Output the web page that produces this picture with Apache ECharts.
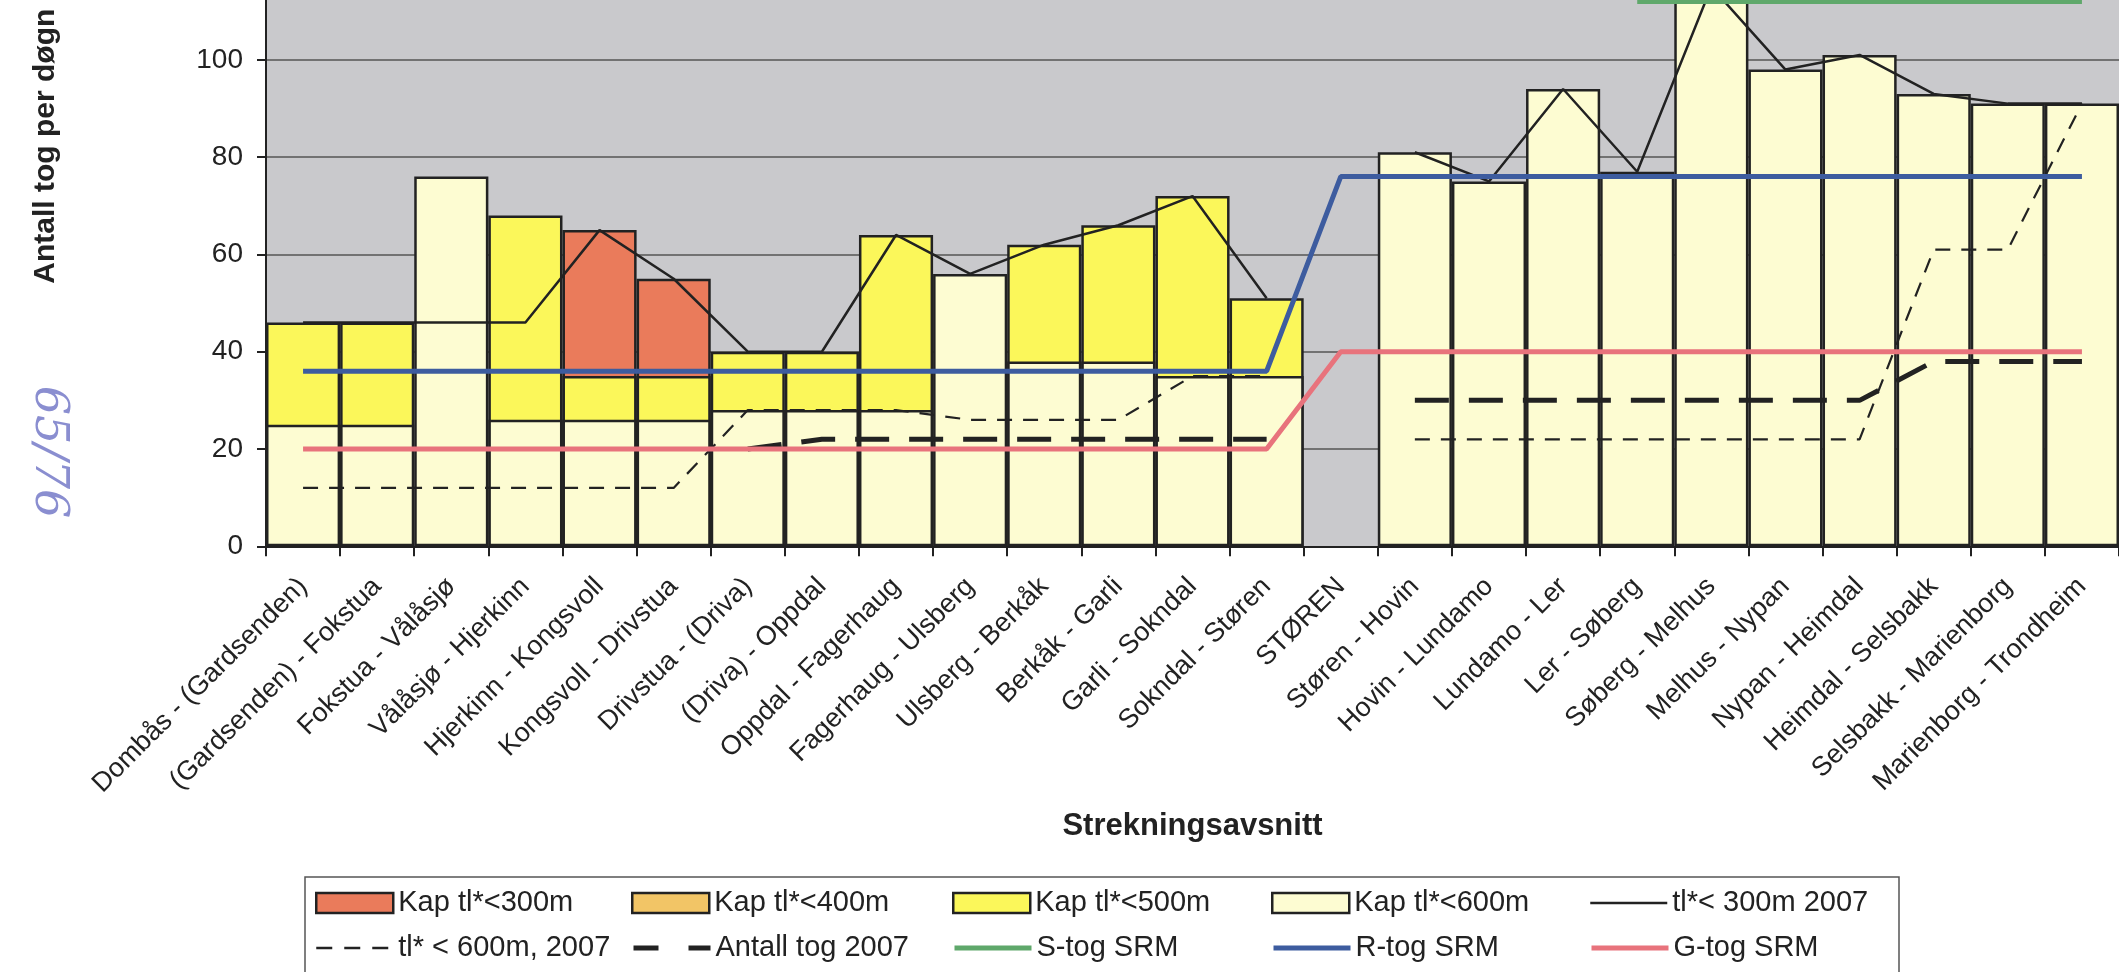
<!DOCTYPE html>
<html>
<head>
<meta charset="utf-8">
<script src="https://cdn.jsdelivr.net/npm/echarts@6/dist/echarts.min.js"></script>
<style>
html,body{margin:0;padding:0;background:#fff;}
#chart{width:2119px;height:972px;}
</style>
</head>
<body>
<div id="chart"></div>
<script>
// ---- Data ----
const categories = ['Dombås - (Gardsenden)', '(Gardsenden) - Fokstua', 'Fokstua - Vålåsjø', 'Vålåsjø - Hjerkinn',
  'Hjerkinn - Kongsvoll', 'Kongsvoll - Drivstua', 'Drivstua - (Driva)', '(Driva) - Oppdal', 'Oppdal - Fagerhaug',
  'Fagerhaug - Ulsberg', 'Ulsberg - Berkåk', 'Berkåk - Garli', 'Garli - Sokndal', 'Sokndal - Støren', 'STØREN',
  'Støren - Hovin', 'Hovin - Lundamo', 'Lundamo - Ler', 'Ler - Søberg', 'Søberg - Melhus', 'Melhus - Nypan',
  'Nypan - Heimdal', 'Heimdal - Selsbakk', 'Selsbakk - Marienborg', 'Marienborg - Trondheim'];

// capacity (total number of trains) by train length limit
const kap300 = [null, null, null, null, 65, 55, null, null, null, null, null, null, null, null, null,
  null, null, null, null, null, null, null, null, null, null];
const kap400 = [null, null, null, null, null, null, null, null, null, null, null, null, null, null, null,
  null, null, null, null, null, null, null, null, null, null];
const kap500 = [46, 46, null, 68, 35, 35, 40, 40, 64, null, 62, 66, 72, 51, null,
  null, null, null, null, null, null, null, null, null, null];
const kap600 = [25, 25, 76, 26, 26, 26, 28, 28, 28, 56, 38, 38, 35, 35, null,
  81, 75, 94, 77, 115, 98, 101, 93, 91, 91];

const tl300_2007 = [46, 46, 46, 46, 65, 55, 40, 40, 64, 56, 62, 66, 72, 51, null,
  81, 75, 94, 77, 115, 98, 101, 93, 91, 91];
const tl600_2007 = [12, 12, 12, 12, 12, 12, 28, 28, 28, 26, 26, 26, 35, 35, null,
  22, 22, 22, 22, 22, 22, 22, 61, 61, 91];
const antall2007 = [null, null, null, null, null, null, 20, 22, 22, 22, 22, 22, 22, 22, null,
  30, 30, 30, 30, 30, 30, 30, 38, 38, 38];
const sTogSRM = [null, null, null, null, null, null, null, null, null, null, null, null, null, null, null,
  null, null, null, 112, 112, 112, 112, 112, 112, 112];
const rTogSRM = [36, 36, 36, 36, 36, 36, 36, 36, 36, 36, 36, 36, 36, 36, 76,
  76, 76, 76, 76, 76, 76, 76, 76, 76, 76];
const gTogSRM = [20, 20, 20, 20, 20, 20, 20, 20, 20, 20, 20, 20, 20, 20, 40,
  40, 40, 40, 40, 40, 40, 40, 40, 40, 40];

// y axis: the picture is cut at the top, around 112
const yTickValues = [0, 20, 40, 60, 80, 100];
const yMax = 112.3;

// ---- Chart ----
const FONT = 'Liberation Sans, Arial, sans-serif';
const INK = '#222';
const chart = echarts.init(document.getElementById('chart'), null, {renderer: 'canvas'});

function barSeries(name, data, color) {
  return {
    name: name, type: 'bar', data: data,
    barGap: '-100%', barCategoryGap: '0%',
    itemStyle: {color: color, borderColor: INK, borderWidth: 2.5},
    emphasis: {disabled: true}
  };
}
function lineSeries(name, data, color, width, type) {
  return {
    name: name, type: 'line', data: data, symbol: 'none', connectNulls: false,
    lineStyle: {color: color, width: width, type: type || 'solid'},
    itemStyle: {color: color},
    z: 3, emphasis: {disabled: true}
  };
}

const series = [
  barSeries('Kap tl*<300m', kap300, '#ea7b5b'),
  barSeries('Kap tl*<400m', kap400, '#f2c566'),
  barSeries('Kap tl*<500m', kap500, '#fbf75a'),
  barSeries('Kap tl*<600m', kap600, '#fdfcd2'),
  lineSeries('tl*< 300m 2007', tl300_2007, INK, 2.5),
  lineSeries('tl* < 600m, 2007', tl600_2007, INK, 2.2, [15, 11]),
  lineSeries('Antall tog 2007', antall2007, INK, 5, [34, 20]),
  lineSeries('S-tog SRM', sTogSRM, '#5fa86b', 5),
  lineSeries('R-tog SRM', rTogSRM, '#3d5c9f', 5),
  lineSeries('G-tog SRM', gTogSRM, '#e8737c', 5)
];
const legendLineStyles = {
  'tl*< 300m 2007': {width: 2.5},
  'tl* < 600m, 2007': {width: 2.5, type: [16, 12]},
  'Antall tog 2007': {width: 5, type: [25, 30]},
  'S-tog SRM': {width: 5},
  'R-tog SRM': {width: 5},
  'G-tog SRM': {width: 5}
};

// legend grid: 2 rows x 5 columns
const legendOrder = [
  ['Kap tl*<300m', 'Kap tl*<400m', 'Kap tl*<500m', 'Kap tl*<600m', 'tl*< 300m 2007'],
  ['tl* < 600m, 2007', 'Antall tog 2007', 'S-tog SRM', 'R-tog SRM', 'G-tog SRM']
];
const colLeft = [315, 631, 952, 1271, 1589];
const rowTop = [888, 933];
const legends = [];
legendOrder.forEach((row, r) => row.forEach((nm, c) => {
  const item = {name: nm};
  if (legendLineStyles[nm]) {
    item.itemStyle = {opacity: 0};
    item.lineStyle = legendLineStyles[nm];
  } else {
    item.icon = 'rect';
    item.itemStyle = {borderColor: INK, borderWidth: 2.5};
  }
  legends.push({
    data: [item], left: colLeft[c], top: rowTop[r], padding: 0,
    itemWidth: 77, itemHeight: 20, itemGap: 0, selectedMode: false,
    textStyle: {fontSize: 29, color: INK, fontFamily: FONT, lineHeight: 30}
  });
}));

const option = {
  animation: false,
  textStyle: {fontFamily: FONT},
  grid: {left: 266, right: 0, top: 0, bottom: 425.7, show: true,
    backgroundColor: '#c9c9cc', borderWidth: 0},
  legend: legends,
  xAxis: {
    type: 'category', data: categories, boundaryGap: true,
    axisLine: {lineStyle: {color: INK, width: 2}},
    axisTick: {show: true, interval: 0, length: 10, lineStyle: {color: INK, width: 2}},
    axisLabel: {interval: 0, rotate: 45, fontSize: 27, color: INK, margin: 36, fontFamily: FONT},
    splitLine: {show: false},
    name: 'Strekningsavsnitt', nameLocation: 'middle', nameGap: 265,
    nameTextStyle: {fontSize: 31, fontWeight: 'bold', color: INK, fontFamily: FONT}
  },
  yAxis: {
    type: 'value', min: 0, max: yMax, interval: 20,
    axisLine: {show: true, lineStyle: {color: INK, width: 2}},
    axisTick: {show: true, length: 9, customValues: yTickValues, lineStyle: {color: INK, width: 2}},
    axisLabel: {fontSize: 28, color: INK, margin: 23, fontFamily: FONT, customValues: yTickValues},
    splitLine: {show: true, lineStyle: {color: ['#555', '#555', '#555', '#555', '#555', '#555', 'rgba(0,0,0,0)'], width: 1.5}},
    name: 'Antall tog per døgn', nameLocation: 'middle', nameGap: 205,
    nameTextStyle: {fontSize: 30, fontWeight: 'bold', color: INK, fontFamily: FONT, padding: [0, 0, 0, 254]}
  },
  graphic: [
    {type: 'rect', silent: true, z: 0,
      shape: {x: 305, y: 877, width: 1594, height: 120},
      style: {fill: '#fff', stroke: '#555', lineWidth: 1.5}},
    {type: 'text', silent: true, x: 48, y: 452, rotation: -Math.PI / 2,
      style: {text: '65/76', fontSize: 46, fontStyle: 'italic', fontFamily: 'DejaVu Serif',
        fill: '#8a8ed0', align: 'center', verticalAlign: 'middle'}}
  ],
  series: series
};
chart.setOption(option);
</script>
</body>
</html>
